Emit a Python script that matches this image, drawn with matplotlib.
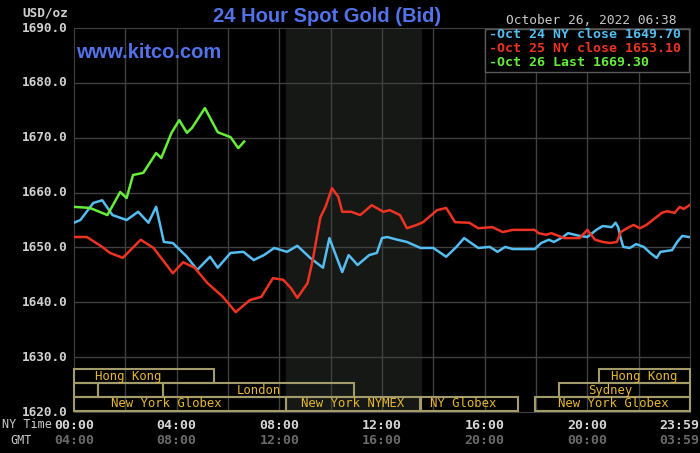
import matplotlib
matplotlib.use('Agg')
from matplotlib import pyplot as plt
import matplotlib.transforms as mtransforms

# hours since 00:00 NY time / bid price
oct24_t = [0, 0.25, 0.75, 1.1, 1.5, 2.05, 2.5, 2.9, 3.2, 3.5, 3.85, 4.4, 4.8, 5.3, 5.6,
           6.1, 6.6, 7.0, 7.4, 7.8, 8.3, 8.7, 9.2, 9.7, 9.95, 10.45, 10.7, 11.05, 11.5,
           11.8, 12.0, 12.2, 12.6, 12.97, 13.5, 14.0, 14.5, 14.9, 15.2, 15.75, 16.2,
           16.5, 16.8, 17.1, 17.95, 18.2, 18.5, 18.7, 19.05, 19.25, 19.7, 20.0, 20.35,
           20.6, 20.95, 21.1, 21.2, 21.3, 21.4, 21.65, 21.9, 22.2, 22.45, 22.7, 22.85,
           23.3, 23.5, 23.7, 23.95]
oct24_v = [1654.5, 1655.0, 1658.1, 1658.6, 1655.9, 1655.0, 1656.5, 1654.5, 1657.4, 1651.0,
           1650.8, 1648.3, 1645.9, 1648.3, 1646.3, 1649.0, 1649.2, 1647.7, 1648.6, 1649.9,
           1649.2, 1650.3, 1648.1, 1646.3, 1651.7, 1645.5, 1648.6, 1646.8, 1648.6, 1649.0,
           1651.7, 1651.9, 1651.4, 1651.0, 1649.9, 1649.9, 1648.3, 1650.1, 1651.7, 1649.9,
           1650.1, 1649.2, 1650.1, 1649.7, 1649.7, 1650.8, 1651.4, 1651.0, 1651.9, 1652.6,
           1652.1, 1651.9, 1653.2, 1653.9, 1653.7, 1654.5, 1653.7, 1651.7, 1650.1, 1649.9,
           1650.6, 1650.1, 1649.0, 1648.1, 1649.2, 1649.5, 1651.0, 1652.1, 1651.9]

oct25_t = [0, 0.5, 1.1, 1.4, 1.9, 2.6, 3.1, 3.85, 4.25, 4.7, 5.2, 5.8, 6.3, 6.85, 7.3,
           7.75, 8.15, 8.45, 8.7, 9.1, 9.3, 9.6, 9.8, 10.05, 10.3, 10.45, 10.8, 11.15,
           11.6, 12.05, 12.3, 12.7, 12.97, 13.35, 13.6, 14.15, 14.5, 14.85, 15.4, 15.75,
           16.3, 16.7, 17.1, 17.95, 18.1, 18.4, 18.6, 19.1, 19.7, 20.0, 20.3, 20.6, 20.9,
           21.15, 21.3, 21.55, 21.8, 22.05, 22.3, 22.55, 22.9, 23.1, 23.4, 23.6, 23.75, 23.98]
oct25_v = [1651.9, 1651.9, 1650.1, 1649.0, 1648.1, 1651.4, 1649.9, 1645.3, 1647.3, 1646.3,
           1643.5, 1641.0, 1638.2, 1640.4, 1641.0, 1644.4, 1644.1, 1642.6, 1640.8, 1643.5,
           1647.7, 1655.5, 1657.4, 1660.8, 1659.2, 1656.5, 1656.5, 1655.9, 1657.7, 1656.5,
           1656.8, 1655.9, 1653.5, 1654.1, 1654.6, 1656.8, 1657.2, 1654.6, 1654.5, 1653.5,
           1653.7, 1652.8, 1653.2, 1653.2, 1652.6, 1652.3, 1652.6, 1651.7, 1651.7, 1653.2,
           1651.4, 1651.0, 1650.8, 1651.0, 1652.8, 1653.5, 1654.1, 1653.5, 1654.1, 1655.0,
           1656.3, 1656.6, 1656.3, 1657.4, 1657.0, 1657.7]

oct26_t = [0, 0.62, 1.3, 1.8, 2.05, 2.3, 2.7, 3.2, 3.4, 3.8, 4.1, 4.4, 4.6, 5.1, 5.6,
           6.1, 6.4, 6.63]
oct26_v = [1657.4, 1657.2, 1655.9, 1660.1, 1659.0, 1663.2, 1663.6, 1667.2, 1666.3, 1670.9,
           1673.2, 1670.9, 1671.8, 1675.4, 1671.0, 1670.1, 1668.1, 1669.3]

legend_labels = ['Oct 24 NY close 1649.70', 'Oct 25 NY close 1653.10', 'Oct 26 Last 1669.30']
line_colors = ['#55bdf0', '#ee3322', '#66ee3a']

ny_ticks = ['00:00', '04:00', '08:00', '12:00', '16:00', '20:00', '23:59']
gmt_ticks = ['04:00', '08:00', '12:00', '16:00', '20:00', '00:00', '03:59']
tick_hours = [0, 4, 8, 12, 16, 20, 24]

# sessions: (row, start, end, label, label_x)
sessions = [
    (0, 0, 5.45, 'Hong Kong', 2.1),
    (0, 20.45, 24, 'Hong Kong', 22.2),
    (1, 0, 0.93, '', 0),
    (1, 0.93, 3.47, '', 0),
    (1, 3.47, 10.9, 'London', 7.2),
    (1, 18.9, 24, 'Sydney', 20.9),
    (2, 0, 8.25, 'New York Globex', 3.6),
    (2, 8.25, 13.5, 'New York NYMEX', 10.87),
    (2, 13.5, 17.3, 'NY Globex', 15.15),
    (2, 17.95, 24, 'New York Globex', 21.0),
]

mono = 'DejaVu Sans Mono'
fig = plt.figure(figsize=(7, 4.53), dpi=100, facecolor='black')
ax = fig.add_axes([74/700, 1-412/453, 616/700, 384/453], facecolor='black')
ax.set_xlim(0, 24)
ax.set_ylim(1620, 1690)

ax.axvspan(8.25, 13.5, color='#151815', zorder=0)
for h in range(2, 24, 2):
    ax.axvline(h, color='#404040', lw=1, zorder=1)
for v in range(1630, 1690, 10):
    ax.axhline(v, color='#404040', lw=1, zorder=1)
for s in ax.spines.values():
    s.set_color('#404040')

ax.plot(oct24_t, oct24_v, color=line_colors[0], lw=1.8, zorder=3)
ax.plot(oct25_t, oct25_v, color=line_colors[1], lw=1.8, zorder=3)
ax.plot(oct26_t, oct26_v, color=line_colors[2], lw=1.8, zorder=4)

ax.set_xticks([])
ax.set_yticks([])
for v in range(1620, 1700, 10):
    ax.text(-0.25, v, '%.1f' % v, ha='right', va='center', color='#d0d0d0',
            fontsize=9.2, family=mono, fontweight='bold')
fig.text(22/700, 1-13/453, 'USD/oz', ha='left', va='center', color='#d0d0d0',
         fontsize=9.2, family=mono, fontweight='bold')

# session boxes
trans = mtransforms.blended_transform_factory(ax.transData, ax.transAxes)
row_y = [(0.075, 0.112), (0.039, 0.075), (0.003, 0.039)]
for row, x0, x1, label, lx in sessions:
    y0, y1 = row_y[row]
    ax.add_patch(plt.Rectangle((x0, y0), x1 - x0, y1 - y0, transform=trans, fill=False,
                               edgecolor='#a39c6a', lw=1.5, zorder=5, clip_on=False))
    if label:
        ax.text(lx, (y0 + y1) / 2, label, transform=trans, ha='center', va='center',
                color='#e6b830', fontsize=8.8, family=mono, zorder=6)

# time labels
for h, ny, gmt in zip(tick_hours, ny_ticks, gmt_ticks):
    x = 23.6 if h == 24 else h
    ax.text(x, -0.035, ny, transform=trans, ha='center', va='center', color='#d8d8d8',
            fontsize=9.5, family=mono, fontweight='bold')
    ax.text(x, -0.075, gmt, transform=trans, ha='center', va='center', color='#6a6a6a',
            fontsize=9.5, family=mono, fontweight='bold')
fig.text(2/700, 1-425/453, 'NY Time', ha='left', va='center', color='#c8c8c8',
         fontsize=8.5, family=mono)
fig.text(10/700, 1-440/453, 'GMT', ha='left', va='center', color='#c8c8c8',
         fontsize=8.5, family=mono)

# titles
fig.text(327/700, 1-16/453, '24 Hour Spot Gold (Bid)', ha='center', va='center',
         color='#5272ea', fontsize=14.5, family='Liberation Sans', fontweight='bold')
ax.text(76/700, 1-52/453, 'www.kitco.com', transform=fig.transFigure, ha='left',
        va='center', color='#5272ea', fontsize=14.5, family='Liberation Sans',
        fontweight='bold', zorder=6)
fig.text(677/700, 1-20/453, 'October 26, 2022 06:38', ha='right', va='center',
         color='#c8c8c8', fontsize=9.3, family=mono)

# legend box
ax.add_patch(plt.Rectangle((485/700, 1-72/453), 204/700, 43/453, transform=fig.transFigure,
                           facecolor='black', edgecolor='#5a5a5a', lw=1, zorder=7))
for i, (lab, c) in enumerate(zip(legend_labels, line_colors)):
    ax.text(489/700, 1-(35 + 14*i)/453, '-' + lab, transform=fig.transFigure, ha='left',
            va='center', color=c, fontsize=9.5, family=mono, fontweight='bold', zorder=8)

fig.savefig('out.png', dpi=100, facecolor='black')
